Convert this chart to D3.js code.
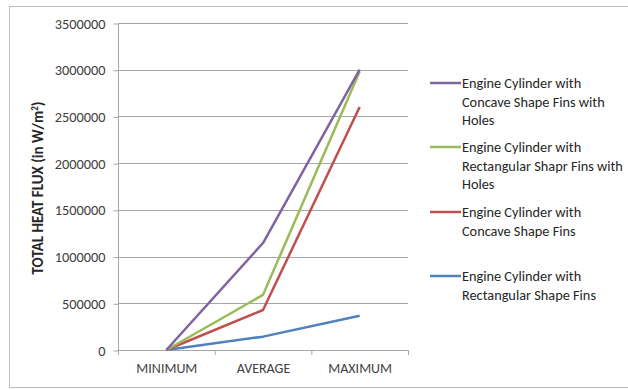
<!DOCTYPE html>
<html><head><meta charset="utf-8">
<script src="https://cdn.jsdelivr.net/npm/d3@7/dist/d3.min.js"></script>
<style>body{margin:0;background:#fff}svg{display:block}</style>
</head><body><svg id="c" width="628" height="390"></svg>
<script>
const categories = ["MINIMUM", "AVERAGE", "MAXIMUM"];
const yTicks = [0, 500000, 1000000, 1500000, 2000000, 2500000, 3000000, 3500000];
const seriesNames = [
  ["Engine Cylinder with", "Concave Shape Fins with", "Holes"],
  ["Engine Cylinder with", "Rectangular Shapr Fins with", "Holes"],
  ["Engine Cylinder with", "Concave Shape Fins"],
  ["Engine Cylinder with", "Rectangular Shape Fins"]
];
const seriesColors = ["#8064a2", "#9bbb59", "#c0504d", "#4f81bd"];
const concaveHoles = [0, 1145000, 3000000];
const rectHoles = [0, 590000, 2980000];
const concave = [0, 428000, 2600000];
const rect = [0, 143000, 367000];
const seriesValues = [concaveHoles, rectHoles, concave, rect];

const svg = d3.select("#c");
const font = "Carlito, 'Open Sans', 'Liberation Sans', sans-serif";
svg.append("rect").attr("x", 9.5).attr("y", 6.5).attr("width", 640).attr("height", 381)
  .attr("fill", "none").attr("stroke", "#bfbfbf").attr("stroke-width", 1);

const x0 = 118, x1 = 408, yTop = 23, yBot = 350;
const x = d3.scaleBand().domain(categories).range([x0, x1]);
const y = d3.scaleLinear().domain([0, 3500000]).range([yBot, yTop]);

// gridlines
svg.append("g").selectAll("line").data(yTicks.filter(d => d > 0)).join("line")
  .attr("x1", x0).attr("x2", x1).attr("y1", d => Math.round(y(d)) + 0.5).attr("y2", d => Math.round(y(d)) + 0.5)
  .attr("stroke", "#a6a6a6").attr("stroke-width", 1);

// y axis
const ya = svg.append("g").attr("transform", `translate(${x0 + 0.5},0.5)`)
  .call(d3.axisLeft(y).tickValues(yTicks).tickSize(5).tickPadding(8).tickFormat(d3.format("d")));
ya.select(".domain").attr("stroke", "#a6a6a6").attr("d", `M0,${yTop}V${yBot}`);
ya.selectAll(".tick line").attr("stroke", "#a6a6a6");
ya.selectAll("text").attr("font-family", font).attr("font-size", 14.3).attr("fill", "#404040");

// x axis
const xa = svg.append("g").attr("transform", `translate(0.5,${yBot + 0.5})`)
  .call(d3.axisBottom(x).tickSize(0).tickPadding(13));
xa.select(".domain").attr("stroke", "#a6a6a6").attr("d", `M${x0},0H${x1}`);
xa.selectAll("text").attr("font-family", font).attr("font-size", 14).attr("fill", "#404040");
svg.append("g").selectAll("line").data([x0, ...categories.map(c => x(c) + x.bandwidth())]).join("line")
  .attr("x1", d => d + 0.5).attr("x2", d => d + 0.5).attr("y1", yBot).attr("y2", yBot + 5)
  .attr("stroke", "#a6a6a6");

// y title
svg.append("text").attr("transform", `translate(43,188) rotate(-90)`).attr("text-anchor", "middle")
  .attr("font-family", font).attr("font-size", 15).attr("font-weight", "bold").attr("fill", "#262626")
  .text("TOTAL HEAT FLUX (in W/m")
  .append("tspan").attr("baseline-shift", "super").attr("font-size", 9).text("2")
  .select(function(){return this.parentNode;}).append("tspan").text(")");

// lines
const line = d3.line().x((d, i) => x(categories[i]) + x.bandwidth() / 2).y(d => y(d));
[3, 2, 1, 0].forEach(i => {
  svg.append("path").attr("d", line(seriesValues[i])).attr("fill", "none")
    .attr("stroke", seriesColors[i]).attr("stroke-width", 2.5).attr("stroke-linejoin", "round");
});

// legend
const legTops = [83, 147, 212, 276];
seriesNames.forEach((lines, i) => {
  const g = svg.append("g");
  g.append("line").attr("x1", 430).attr("x2", 461).attr("y1", legTops[i]).attr("y2", legTops[i])
    .attr("stroke", seriesColors[i]).attr("stroke-width", 2.5);
  lines.forEach((t, j) => {
    g.append("text").attr("x", 462).attr("y", legTops[i] + j * 18.5 + 5)
      .attr("font-family", font).attr("font-size", 14.3).attr("fill", "#262626").text(t);
  });
});
</script></body></html>
